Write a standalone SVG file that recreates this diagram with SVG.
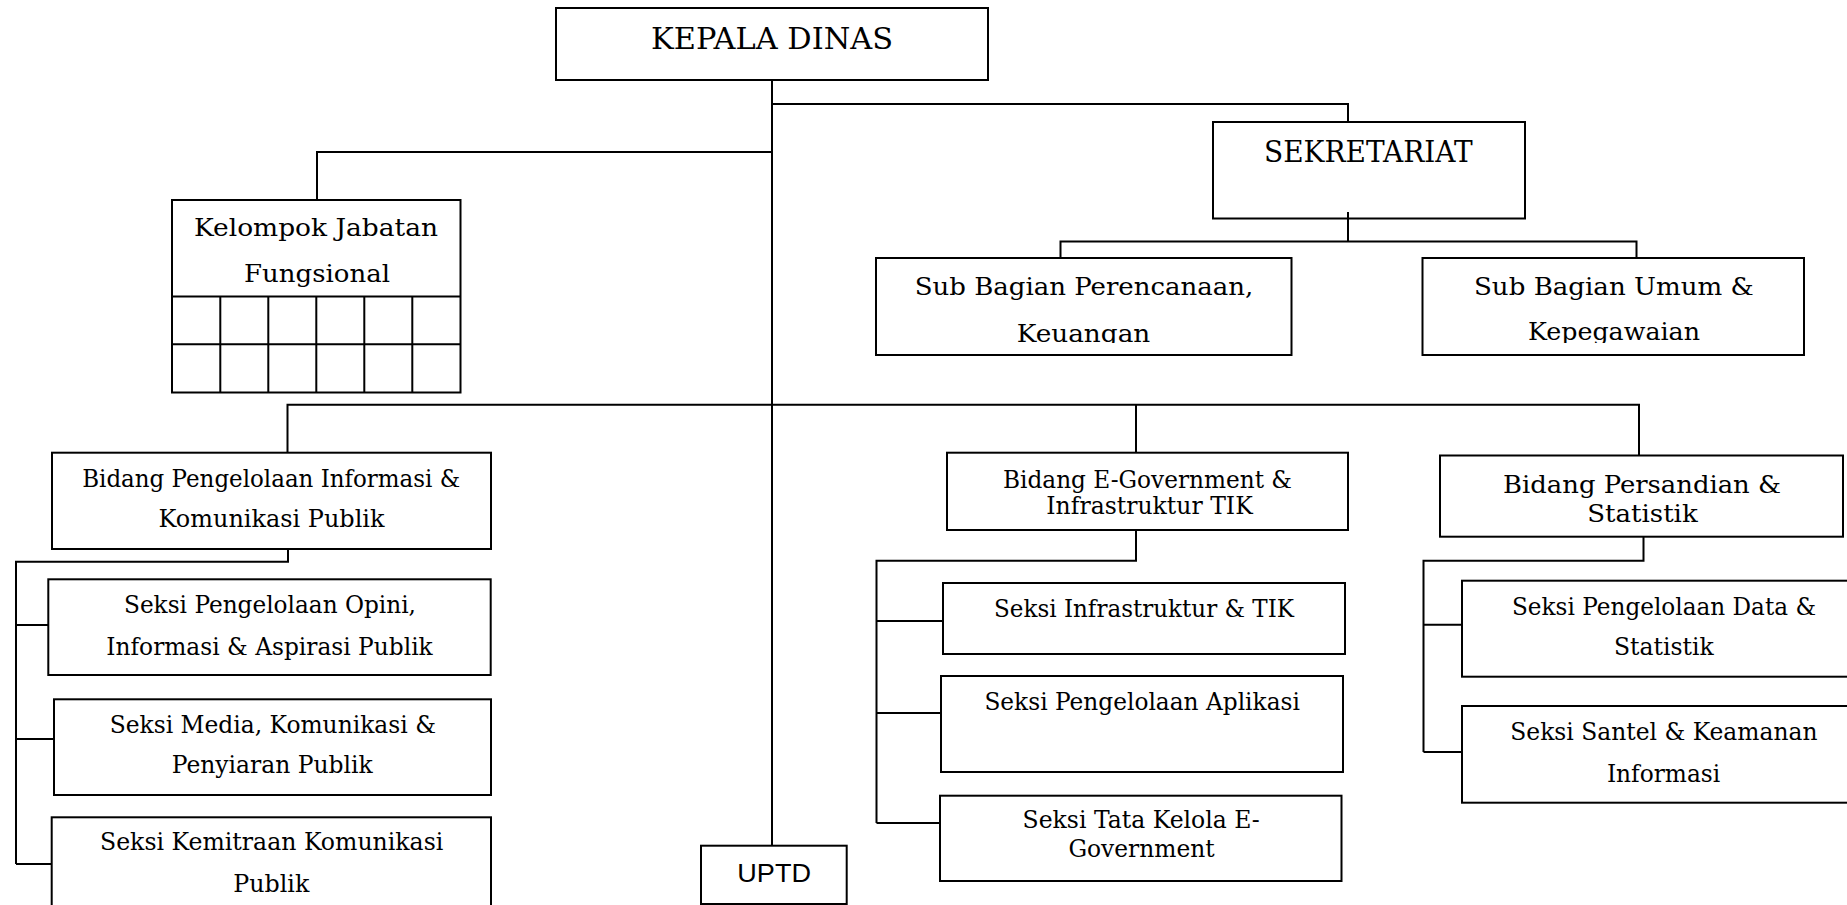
<svg xmlns="http://www.w3.org/2000/svg" width="1847" height="905" viewBox="0 0 1847 905">
<style>
.box{fill:#fff;stroke:#000;stroke-width:2}
.ln{fill:none;stroke:#000;stroke-width:2}
.t{font-family:"DejaVu Serif","Liberation Serif",serif;fill:#000;font-size:24.5px}
.big{font-size:29px}
.s{font-family:"Liberation Sans",Arial,sans-serif;fill:#000;font-size:26px}
</style>
<defs>
<clipPath id="clipSub"><rect x="0" y="0" width="1847" height="343"/></clipPath>
</defs>
<rect width="1847" height="905" fill="#fff"/>
<g id="connectors" class="ln">
<path d="M772,80V846"/>
<path d="M772,104H1348V122"/>
<path d="M772,152H317V200"/>
<path d="M1348,212V241.5"/>
<path d="M1060.5,258V241.5H1636.5V258"/>
<path d="M287.5,452.7V404.7H1639V455.5"/>
<path d="M1136,404.7V452.7"/>
<path d="M288,549V561.7H16V864"/>
<path d="M16,625H48.3M16,739H54M16,864H51.7"/>
<path d="M1136,530V560.7H876.5V823"/>
<path d="M876.5,621H943M876.5,713H941M876.5,823H940"/>
<path d="M1643.5,536.7V560.7H1423.5V752"/>
<path d="M1423.5,624.7H1462M1423.5,752H1462"/>
</g>
<g id="kepala">
<rect class="box" x="556" y="8" width="432" height="72"/>
<text class="t big" x="651" y="49.3" textLength="242" lengthAdjust="spacingAndGlyphs">KEPALA DINAS</text>
</g>
<g id="sekretariat">
<rect class="box" x="1213" y="122" width="312" height="96.5"/>
<path class="ln" d="M1348,212V218.5"/>
<text class="t big" x="1264" y="161.7" textLength="208.7" lengthAdjust="spacingAndGlyphs">SEKRETARIAT</text>
</g>
<g id="kelompok">
<rect class="box" x="172" y="200" width="288.5" height="192.5"/>
<path class="ln" d="M172,296.5H460.5M172,344.3H460.5M220.3,296.5V392.5M268.3,296.5V392.5M316.3,296.5V392.5M364.3,296.5V392.5M412.3,296.5V392.5"/>
<text class="t" font-size="24" x="194" y="235.7" textLength="244" lengthAdjust="spacingAndGlyphs">Kelompok Jabatan</text>
<text class="t" font-size="24" x="244" y="282.3" textLength="146" lengthAdjust="spacingAndGlyphs">Fungsional</text>
</g>
<g id="subPerencanaan">
<rect class="box" x="876" y="258" width="415.5" height="97"/>
<g clip-path="url(#clipSub)">
<text class="t" x="914.7" y="295" textLength="338.6" lengthAdjust="spacingAndGlyphs">Sub Bagian Perencanaan,</text>
<text class="t" x="1016.7" y="341.7" textLength="133.6" lengthAdjust="spacingAndGlyphs">Keuangan</text>
</g>
</g>
<g id="subUmum">
<rect class="box" x="1422.5" y="258" width="381.5" height="97"/>
<g clip-path="url(#clipSub)">
<text class="t" x="1474" y="295" textLength="279.7" lengthAdjust="spacingAndGlyphs">Sub Bagian Umum &amp;</text>
<text class="t" x="1528" y="340" textLength="172" lengthAdjust="spacingAndGlyphs">Kepegawaian</text>
</g>
</g>
<g id="bidangInfo">
<rect class="box" x="52" y="452.7" width="439" height="96.3"/>
<text class="t" font-size="24" x="82.2" y="486.7" textLength="378" lengthAdjust="spacingAndGlyphs">Bidang Pengelolaan Informasi &amp;</text>
<text class="t" font-size="24" x="158.6" y="527" textLength="225.9" lengthAdjust="spacingAndGlyphs">Komunikasi Publik</text>
</g>
<g id="bidangEgov">
<rect class="box" x="947" y="452.7" width="401" height="77.3"/>
<text class="t" x="1003" y="487.7" textLength="289" lengthAdjust="spacingAndGlyphs">Bidang E-Government &amp;</text>
<text class="t" x="1046.3" y="514" textLength="206.4" lengthAdjust="spacingAndGlyphs">Infrastruktur TIK</text>
</g>
<g id="bidangPersandian">
<rect class="box" x="1440" y="455.5" width="403" height="81.2"/>
<text class="t" font-size="26.5" x="1503" y="492.7" textLength="278" lengthAdjust="spacingAndGlyphs">Bidang Persandian &amp;</text>
<text class="t" font-size="26.5" x="1587.3" y="521.7" textLength="110.4" lengthAdjust="spacingAndGlyphs">Statistik</text>
</g>
<g id="seksiOpini">
<rect class="box" x="48.3" y="579.3" width="442.4" height="95.7"/>
<text class="t" x="124" y="613.3" textLength="292" lengthAdjust="spacingAndGlyphs">Seksi Pengelolaan Opini,</text>
<text class="t" x="106.3" y="655" textLength="326.4" lengthAdjust="spacingAndGlyphs">Informasi &amp; Aspirasi Publik</text>
</g>
<g id="seksiMedia">
<rect class="box" x="54" y="699.3" width="437" height="95.7"/>
<text class="t" x="109.7" y="733.3" textLength="326.3" lengthAdjust="spacingAndGlyphs">Seksi Media, Komunikasi &amp;</text>
<text class="t" x="171.7" y="773.3" textLength="201" lengthAdjust="spacingAndGlyphs">Penyiaran Publik</text>
</g>
<g id="seksiKemitraan">
<rect class="box" x="51.7" y="817.3" width="439.3" height="110"/>
<text class="t" x="100" y="850" textLength="343.3" lengthAdjust="spacingAndGlyphs">Seksi Kemitraan Komunikasi</text>
<text class="t" x="233.3" y="891.7" textLength="76" lengthAdjust="spacingAndGlyphs">Publik</text>
</g>
<g id="seksiInfra">
<rect class="box" x="943" y="583" width="402" height="71"/>
<text class="t" x="994" y="616.7" textLength="300" lengthAdjust="spacingAndGlyphs">Seksi Infrastruktur &amp; TIK</text>
</g>
<g id="seksiAplikasi">
<rect class="box" x="941" y="676" width="402" height="96"/>
<text class="t" x="984.4" y="710" textLength="315.5" lengthAdjust="spacingAndGlyphs">Seksi Pengelolaan Aplikasi</text>
</g>
<g id="seksiTataKelola">
<rect class="box" x="940" y="795.7" width="401.5" height="85.3"/>
<text class="t" x="1022.6" y="828" textLength="237.2" lengthAdjust="spacingAndGlyphs">Seksi Tata Kelola E-</text>
<text class="t" x="1068.4" y="856.7" textLength="146.3" lengthAdjust="spacingAndGlyphs">Government</text>
</g>
<g id="seksiData">
<rect class="box" x="1462" y="580.7" width="410" height="96"/>
<text class="t" x="1512" y="615" textLength="304" lengthAdjust="spacingAndGlyphs">Seksi Pengelolaan Data &amp;</text>
<text class="t" x="1614" y="655" textLength="99.7" lengthAdjust="spacingAndGlyphs">Statistik</text>
</g>
<g id="seksiSantel">
<rect class="box" x="1462" y="706" width="410" height="96.7"/>
<text class="t" x="1510.3" y="740" textLength="307.2" lengthAdjust="spacingAndGlyphs">Seksi Santel &amp; Keamanan</text>
<text class="t" x="1606.9" y="781.7" textLength="113.3" lengthAdjust="spacingAndGlyphs">Informasi</text>
</g>
<g id="uptd">
<rect class="box" x="701" y="845.7" width="145.7" height="58.3"/>
<text class="s" x="737.3" y="881.7" textLength="73.7" lengthAdjust="spacingAndGlyphs">UPTD</text>
</g>
</svg>
